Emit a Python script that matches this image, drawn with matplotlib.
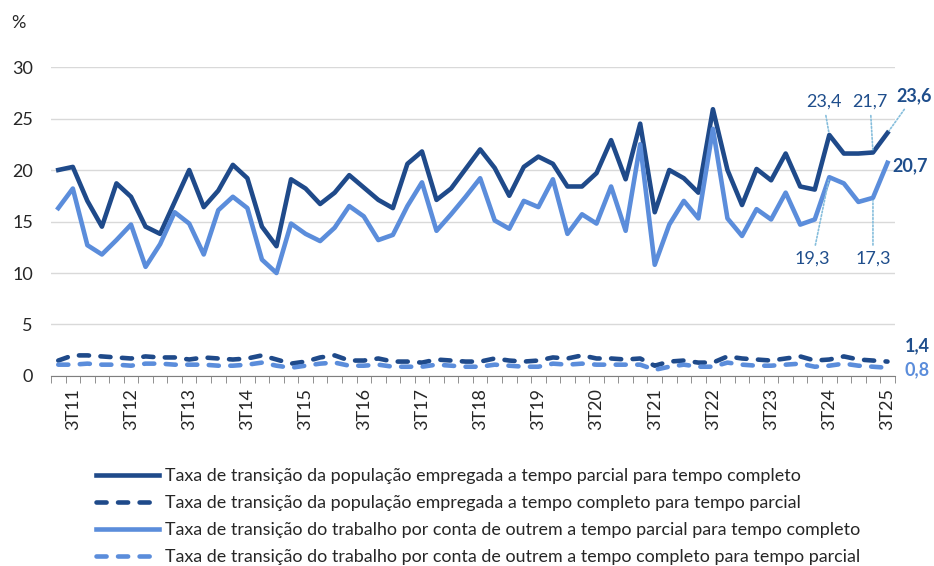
import matplotlib
matplotlib.use("Agg")
import matplotlib.pyplot as plt
import numpy as np

plt.rcParams["font.family"] = ["Lato", "DejaVu Sans"]

# quarters 2T11 .. 3T25
quarters = [f"{q}T{y:02d}" for y in range(11, 26) for q in range(1, 5)][1:-1]

parcial_completo = [20.0, 20.3, 17.0, 14.5, 18.7, 17.4, 14.5, 13.8, 16.9, 20.0,
                    16.4, 18.0, 20.5, 19.2, 14.5, 12.6, 19.1, 18.2, 16.7, 17.8,
                    19.5, 18.3, 17.1, 16.3, 20.6, 21.8, 17.1, 18.2, 20.1, 22.0,
                    20.2, 17.5, 20.3, 21.3, 20.6, 18.4, 18.4, 19.7, 22.9, 19.1,
                    24.5, 15.9, 20.0, 19.2, 17.8, 25.9, 20.0, 16.6, 20.1, 19.0,
                    21.6, 18.4, 18.1, 23.4, 21.6, 21.6, 21.7, 23.6]
completo_parcial = [1.5, 2.0, 2.0, 1.9, 1.8, 1.7, 1.9, 1.8, 1.8, 1.6,
                    1.8, 1.7, 1.6, 1.7, 2.0, 1.6, 1.2, 1.4, 1.8, 2.0,
                    1.5, 1.5, 1.7, 1.4, 1.4, 1.3, 1.6, 1.5, 1.4, 1.4,
                    1.7, 1.5, 1.4, 1.5, 1.8, 1.7, 2.0, 1.7, 1.7, 1.6,
                    1.7, 1.0, 1.4, 1.5, 1.3, 1.3, 1.9, 1.7, 1.6, 1.5,
                    1.7, 1.9, 1.5, 1.6, 1.9, 1.6, 1.5, 1.4]
tco_parcial_completo = [16.3, 18.2, 12.7, 11.8, 13.2, 14.7, 10.6, 12.8, 15.9, 14.8,
                        11.8, 16.1, 17.4, 16.3, 11.3, 10.0, 14.8, 13.8, 13.1, 14.4,
                        16.5, 15.5, 13.2, 13.7, 16.5, 18.8, 14.1, 15.7, 17.4, 19.2,
                        15.1, 14.3, 17.0, 16.4, 19.1, 13.8, 15.7, 14.8, 18.4, 14.1,
                        22.5, 10.8, 14.7, 17.0, 15.3, 24.0, 15.3, 13.6, 16.2, 15.2,
                        17.8, 14.7, 15.2, 19.3, 18.7, 16.9, 17.3, 20.7]
tco_completo_parcial = [1.1, 1.1, 1.2, 1.1, 1.1, 1.0, 1.2, 1.2, 1.1, 1.1,
                        1.1, 1.0, 1.0, 1.1, 1.3, 1.0, 0.8, 1.0, 1.2, 1.3,
                        1.0, 1.0, 1.1, 0.9, 0.9, 0.9, 1.1, 1.0, 0.9, 0.9,
                        1.1, 1.0, 0.9, 0.9, 1.2, 1.1, 1.2, 1.1, 1.1, 1.1,
                        1.1, 0.6, 0.9, 1.1, 0.9, 0.9, 1.3, 1.1, 1.0, 1.0,
                        1.1, 1.2, 0.9, 1.0, 1.2, 1.0, 0.9, 0.8]

labels = [
    "Taxa de transição da população empregada a tempo parcial para tempo completo",
    "Taxa de transição da população empregada a tempo completo para tempo parcial",
    "Taxa de transição do trabalho por conta de outrem a tempo parcial para tempo completo",
    "Taxa de transição do trabalho por conta de outrem a tempo completo para tempo parcial",
]

DARK = "#1F4A8A"
LIGHT = "#5B8DDB"
TXT = "#1F4E8C"
LEAD = "#86BEDC"
FS = 13

fig = plt.figure(figsize=(9.34, 5.66), dpi=100)
ax = fig.add_axes([0.0546, 0.3357, 0.9034, 0.5459])

x = np.arange(len(quarters))
dash = dict(linestyle=(0, (2.2, 2.5)), dash_capstyle="round")
ax.plot(x, parcial_completo, color=DARK, lw=3.3, label=labels[0], solid_joinstyle="round")
ax.plot(x, completo_parcial, color=DARK, lw=3.3, label=labels[1], **dash)
ax.plot(x, tco_parcial_completo, color=LIGHT, lw=3.3, label=labels[2], solid_joinstyle="round")
ax.plot(x, tco_completo_parcial, color=LIGHT, lw=3.3, label=labels[3], **dash)

ax.set_xlim(-0.5, len(quarters) - 0.5)
ax.set_ylim(0, 30)
ax.set_yticks(range(0, 31, 5))
ax.grid(axis="y", color="#D9D9D9", lw=1)
ax.set_axisbelow(True)
for s in ["top", "right", "left"]:
    ax.spines[s].set_visible(False)
ax.spines["bottom"].set_color("#7F7F7F")
ax.tick_params(axis="y", length=0, labelsize=FS, colors="#262626", pad=13)

lab_idx = list(range(1, len(quarters), 4))
ax.set_xticks(lab_idx)
ax.set_xticklabels([quarters[i] for i in lab_idx], rotation=90)
ax.set_xticks(np.arange(-0.5, len(quarters), 1), minor=True)
ax.tick_params(axis="x", which="major", length=0, labelsize=FS, colors="#262626", pad=9)
ax.tick_params(axis="x", which="minor", length=5, color="#7F7F7F", direction="out")

fig.text(18 / 934, 1 - 23 / 566, "%", fontsize=FS, color="#262626", ha="center", va="center")

n = len(quarters) - 1
lead = dict(arrowstyle="-", color=LEAD, lw=1.2, linestyle=(0, (1, 1.2)))
ax.annotate("23,4", xy=(n - 4, parcial_completo[n - 4]), xytext=(n - 4.4, 26.6),
            ha="center", va="center", fontsize=FS, color=TXT, arrowprops=lead,
            annotation_clip=False)
ax.annotate("21,7", xy=(n - 1, parcial_completo[n - 1]), xytext=(n - 1.2, 26.6),
            ha="center", va="center", fontsize=FS, color=TXT, arrowprops=lead,
            annotation_clip=False)
ax.annotate("23,6", xy=(n, parcial_completo[n]), xytext=(n + 0.6, 27.2),
            ha="left", va="center", fontsize=FS, color=TXT, fontweight="bold",
            arrowprops=lead, annotation_clip=False)
ax.annotate("20,7", xy=(n, tco_parcial_completo[n]), xytext=(n + 0.35, 20.45),
            ha="left", va="center", fontsize=FS, color=TXT, fontweight="bold",
            annotation_clip=False)
ax.annotate("19,3", xy=(n - 4, tco_parcial_completo[n - 4]), xytext=(n - 5.15, 11.4),
            ha="center", va="center", fontsize=FS, color=TXT, arrowprops=lead,
            annotation_clip=False)
ax.annotate("17,3", xy=(n - 1, tco_parcial_completo[n - 1]), xytext=(n - 1.0, 11.4),
            ha="center", va="center", fontsize=FS, color=TXT, arrowprops=lead,
            annotation_clip=False)
ax.annotate("1,4", xy=(n, completo_parcial[n]), xytext=(n + 1.2, 2.9),
            ha="left", va="center", fontsize=FS, color=TXT, fontweight="bold",
            annotation_clip=False)
ax.annotate("0,8", xy=(n, tco_completo_parcial[n]), xytext=(n + 1.2, 0.6),
            ha="left", va="center", fontsize=FS, color=LIGHT, fontweight="bold",
            annotation_clip=False)

leg = fig.legend(loc="upper left", bbox_to_anchor=(89 / 934, 1 - 461 / 566),
                 frameon=False, fontsize=12.9, handlelength=3.5, handletextpad=0.33,
                 labelspacing=0.62, borderaxespad=0)
for t in leg.get_texts():
    t.set_color("#262626")

fig.savefig("out.png", dpi=100)
